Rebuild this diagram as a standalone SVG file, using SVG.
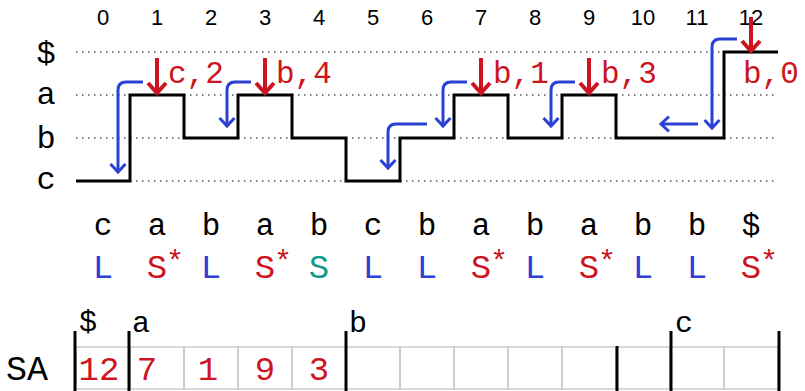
<svg xmlns="http://www.w3.org/2000/svg" width="805" height="391" viewBox="0 0 805 391">
<defs>
<style>
.mono{font-family:"Liberation Mono","DejaVu Sans Mono",monospace}
.num{font-family:"Liberation Sans",Arial,sans-serif;font-size:22px;text-anchor:middle;fill:#000}
.lvl{font-size:32px;text-anchor:middle;fill:#000}
.grid{stroke:#555;stroke-width:1.3;stroke-dasharray:1.5 4.5;fill:none}
.step{stroke:#000;stroke-width:3;fill:none;stroke-linejoin:miter}
.blue{stroke:#2b40d4;stroke-width:3;fill:none;stroke-linecap:butt}
.red{stroke:#cc1520;stroke-width:4;fill:none}
.rtxt{font-size:31px;fill:#cc1520}
.chr{font-size:31px;text-anchor:middle;fill:#000}
.typ{font-size:34px;text-anchor:middle}
.tL{fill:#2b40d4}
.tS{fill:#cc1520}
.tG{fill:#0f9a86}
.star{font-size:30px;fill:#cc1520}
.cell{fill:none;stroke:#cccccc;stroke-width:1.5}
.sep{stroke:#000;stroke-width:3}
.bk{font-size:30px;fill:#000}
.sa{font-size:34px;text-anchor:middle;fill:#cc1520}
</style>
<marker id="bh" markerUnits="userSpaceOnUse" viewBox="-12 -12 24 24" markerWidth="24" markerHeight="24" refX="0" refY="0" orient="auto">
<path d="M-8,-7.5 L0,0 L-8,7.5" fill="none" stroke="#2b40d4" stroke-width="3"/>
</marker>
<marker id="rh" markerUnits="userSpaceOnUse" viewBox="-14 -14 28 28" markerWidth="28" markerHeight="28" refX="0" refY="0" orient="auto">
<path d="M-10,-9 L0,0 L-10,9" fill="none" stroke="#cc1520" stroke-width="4"/>
</marker>
</defs>

<g id="indices">
<text class="num" x="103" y="25">0</text>
<text class="num" x="157" y="25">1</text>
<text class="num" x="211" y="25">2</text>
<text class="num" x="265" y="25">3</text>
<text class="num" x="319" y="25">4</text>
<text class="num" x="373" y="25">5</text>
<text class="num" x="427" y="25">6</text>
<text class="num" x="481" y="25">7</text>
<text class="num" x="535" y="25">8</text>
<text class="num" x="589" y="25">9</text>
<text class="num" x="643" y="25">10</text>
<text class="num" x="697" y="25">11</text>
<text class="num" x="751" y="25">12</text>
</g>

<g id="levels" class="mono">
<text class="lvl" x="46" y="63">$</text>
<text class="lvl" x="46" y="104">a</text>
<text class="lvl" x="46" y="148">b</text>
<text class="lvl" x="46" y="189">c</text>
</g>

<g id="grid">
<line class="grid" x1="76" y1="52" x2="778" y2="52"/>
<line class="grid" x1="76" y1="95" x2="778" y2="95"/>
<line class="grid" x1="76" y1="138" x2="778" y2="138"/>
<line class="grid" x1="76" y1="181" x2="778" y2="181"/>
</g>

<g id="step">
<path class="step" d="M76,181 H130 V95 H184 V138 H238 V95 H292 V138 H346 V181 H400 V138 H454 V95 H508 V138 H562 V95 H616 V138 H724 V52 H778"/>
</g>

<g id="connectors">
<path class="blue" marker-end="url(#bh)" d="M143,82 H126 Q118,82 118,90 V172"/>
<path class="blue" marker-end="url(#bh)" d="M251,82 H235 Q227,82 227,90 V126"/>
<path class="blue" marker-end="url(#bh)" d="M427,124 H396 Q388,124 388,132 V168"/>
<path class="blue" marker-end="url(#bh)" d="M467,82 H451 Q443,82 443,90 V126"/>
<path class="blue" marker-end="url(#bh)" d="M575,82 H559 Q551,82 551,90 V126"/>
<path class="blue" marker-end="url(#bh)" d="M698,124 H661"/>
<path class="blue" marker-end="url(#bh)" d="M737,39 H720 Q712,39 712,47 V128"/>
<path class="red" marker-end="url(#rh)" d="M157,58 V93"/>
<path class="red" marker-end="url(#rh)" d="M265,58 V93"/>
<path class="red" marker-end="url(#rh)" d="M481,58 V93"/>
<path class="red" marker-end="url(#rh)" d="M589,58 V93"/>
<path class="red" marker-end="url(#rh)" d="M751,17 V51"/>
</g>

<g id="red-labels" class="mono">
<text class="rtxt" x="168" y="83">c,2</text>
<text class="rtxt" x="276" y="83">b,4</text>
<text class="rtxt" x="493" y="83">b,1</text>
<text class="rtxt" x="601" y="83">b,3</text>
<text class="rtxt" x="743" y="83">b,0</text>
</g>

<g id="text-row" class="mono">
<text class="chr" x="103" y="235">c</text>
<text class="chr" x="157" y="235">a</text>
<text class="chr" x="211" y="235">b</text>
<text class="chr" x="265" y="235">a</text>
<text class="chr" x="319" y="235">b</text>
<text class="chr" x="373" y="235">c</text>
<text class="chr" x="427" y="235">b</text>
<text class="chr" x="481" y="235">a</text>
<text class="chr" x="535" y="235">b</text>
<text class="chr" x="589" y="235">a</text>
<text class="chr" x="643" y="235">b</text>
<text class="chr" x="697" y="235">b</text>
<text class="chr" x="751" y="235">$</text>
</g>

<g id="type-row" class="mono">
<text class="typ tL" x="103" y="278">L</text>
<text class="typ tS" x="157" y="278">S</text><text class="star" x="166" y="271">*</text>
<text class="typ tL" x="211" y="278">L</text>
<text class="typ tS" x="265" y="278">S</text><text class="star" x="274" y="271">*</text>
<text class="typ tG" x="319" y="278">S</text>
<text class="typ tL" x="373" y="278">L</text>
<text class="typ tL" x="427" y="278">L</text>
<text class="typ tS" x="481" y="278">S</text><text class="star" x="490" y="271">*</text>
<text class="typ tL" x="535" y="278">L</text>
<text class="typ tS" x="589" y="278">S</text><text class="star" x="598" y="271">*</text>
<text class="typ tL" x="643" y="278">L</text>
<text class="typ tL" x="697" y="278">L</text>
<text class="typ tS" x="751" y="278">S</text><text class="star" x="760" y="271">*</text>
</g>

<g id="sa-array">
<rect class="cell" x="76" y="347" width="54" height="42"/>
<rect class="cell" x="130" y="347" width="54" height="42"/>
<rect class="cell" x="184" y="347" width="54" height="42"/>
<rect class="cell" x="238" y="347" width="54" height="42"/>
<rect class="cell" x="292" y="347" width="54" height="42"/>
<rect class="cell" x="346" y="347" width="54" height="42"/>
<rect class="cell" x="400" y="347" width="54" height="42"/>
<rect class="cell" x="454" y="347" width="54" height="42"/>
<rect class="cell" x="508" y="347" width="54" height="42"/>
<rect class="cell" x="562" y="347" width="54" height="42"/>
<rect class="cell" x="616" y="347" width="54" height="42"/>
<rect class="cell" x="670" y="347" width="54" height="42"/>
<rect class="cell" x="724" y="347" width="54" height="42"/>
<line class="sep" x1="75" y1="331" x2="75" y2="391"/>
<line class="sep" x1="129" y1="331" x2="129" y2="391"/>
<line class="sep" x1="346" y1="331" x2="346" y2="391"/>
<line class="sep" x1="617" y1="346" x2="617" y2="391"/>
<line class="sep" x1="671" y1="331" x2="671" y2="391"/>
<line class="sep" x1="779" y1="331" x2="779" y2="391"/>
<g class="mono">
<text class="bk" x="79" y="331">$</text>
<text class="bk" x="132" y="332">a</text>
<text class="bk" x="349" y="332">b</text>
<text class="bk" x="675" y="332">c</text>
<text x="6" y="380" font-size="35" fill="#000">SA</text>
<text class="sa" x="99" y="380">12</text>
<text class="sa" x="147" y="380">7</text>
<text class="sa" x="208" y="380">1</text>
<text class="sa" x="265" y="380">9</text>
<text class="sa" x="319" y="380">3</text>
</g>
</g>
</svg>
